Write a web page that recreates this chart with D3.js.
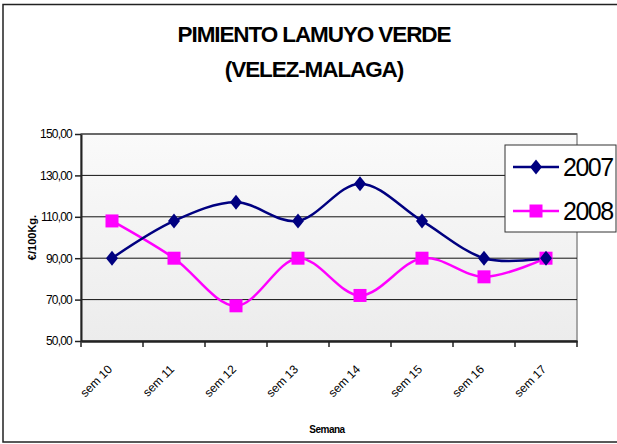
<!DOCTYPE html>
<html><head><meta charset="utf-8">
<script src="https://cdn.jsdelivr.net/npm/d3@7"></script>
<style>body{margin:0;background:#fff}svg{display:block;font-family:Arial,"Liberation Sans",sans-serif}</style>
</head><body>
<svg id="c" width="617" height="444"></svg>
<script>
const categories = ["sem 10","sem 11","sem 12","sem 13","sem 14","sem 15","sem 16","sem 17"];
const series2007 = [90,108,117,108,126,108,90,90];
const series2008 = [108,90,67,90,72,90,81,90];
const seriesNames = ["2007","2008"];
const yTicks = [50,70,90,110,130,150];
const titleLines = ["PIMIENTO LAMUYO VERDE","(VELEZ-MALAGA)"];

const svg = d3.select("#c");
// outer frame
svg.append("rect").attr("x",3).attr("y",4.5).attr("width",640).attr("height",437.5)
  .attr("fill","#fff").attr("stroke","#222").attr("stroke-width",1.5);

const L=81,R=577,T=134,B=341;
const x = d3.scaleBand().domain(categories).range([L,R]);
const y = d3.scaleLinear().domain([50,150]).range([B,T]);

const defs = svg.append("defs");
const g = defs.append("linearGradient").attr("id","bg").attr("x1",0).attr("y1",0).attr("x2",0).attr("y2",1);
g.append("stop").attr("offset","0%").attr("stop-color","#fafafa");
g.append("stop").attr("offset","100%").attr("stop-color","#ececec");
svg.append("rect").attr("x",L).attr("y",T).attr("width",R-L).attr("height",B-T)
  .attr("fill","url(#bg)").attr("stroke","#8c8c8c").attr("stroke-width",1.5);

// gridlines
svg.append("g").selectAll("line").data(yTicks.filter(d=>d>50&&d<150)).join("line")
  .attr("x1",L).attr("x2",R).attr("y1",d=>y(d)).attr("y2",d=>y(d))
  .attr("stroke","#111").attr("stroke-width",1);
svg.append("line").attr("x1",L).attr("x2",R).attr("y1",y(150)).attr("y2",y(150)).attr("stroke","#555").attr("stroke-width",1.5);

// y axis
const yAxis = svg.append("g").attr("transform",`translate(${L},0)`)
  .call(d3.axisLeft(y).tickValues(yTicks).tickSize(6).tickSizeOuter(0).tickFormat(d=>d3.format(".2f")(d).replace(".",",")));
yAxis.select(".domain").attr("stroke","#222").attr("stroke-width",2);
yAxis.selectAll(".tick line").attr("stroke","#222").attr("stroke-width",1.5);
yAxis.selectAll("text").attr("font-size",12).attr("fill","#000").attr("letter-spacing","-0.8px").attr("x",-9);

// x axis
const xAxis = svg.append("g").attr("transform",`translate(0,${B})`)
  .call(d3.axisBottom(x).tickSize(0).tickSizeOuter(0));
xAxis.select(".domain").attr("stroke","#222").attr("stroke-width",2.5);
xAxis.selectAll(".tick text").attr("font-size",12).attr("fill","#000")
  .attr("text-anchor","end").attr("x",0).attr("y",0).attr("dy",0)
  .attr("transform","translate(1,29) rotate(-45)");
// tick marks at band boundaries
svg.append("g").selectAll("line").data(categories).join("line")
  .attr("x1",d=>x(d)+x.bandwidth()).attr("x2",d=>x(d)+x.bandwidth())
  .attr("y1",B).attr("y2",B+6).attr("stroke","#222").attr("stroke-width",1.5);
svg.append("line").attr("x1",L).attr("x2",L).attr("y1",B).attr("y2",B+6).attr("stroke","#222").attr("stroke-width",1.5);

// titles
svg.append("g").selectAll("text").data(titleLines).join("text")
  .attr("x",314).attr("y",(d,i)=>42+i*35).attr("text-anchor","middle")
  .attr("font-size",22.5).attr("font-weight","bold").attr("letter-spacing","-1.1px").text(d=>d);
svg.append("text").attr("transform",`translate(36,${(T+B)/2}) rotate(-90)`).attr("text-anchor","middle")
  .attr("font-size",11).attr("font-weight","bold").text("€/100Kg.");
svg.append("text").attr("x",327).attr("y",433).attr("text-anchor","middle")
  .attr("font-size",10).attr("font-weight","bold").attr("letter-spacing","-0.5px").text("Semana");

// series
const colors = ["#000080","#ff00ff"];
const data = [series2007, series2008];
const line = d3.line().x((d,i)=>x(categories[i])+x.bandwidth()/2).y(d=>y(d)).curve(d3.curveCardinal.tension(0));
const diamond = "M0,-7.5L6,0L0,7.5L-6,0Z";
const square = "M-6.5,-6.5H6.5V6.5H-6.5Z";
const shapes = [diamond, square];
[1,0].forEach(k=>{
  svg.append("path").datum(data[k]).attr("d",line).attr("fill","none").attr("stroke",colors[k]).attr("stroke-width",2.5);
});
[1,0].forEach(k=>{
  svg.append("g").selectAll("path").data(data[k]).join("path")
    .attr("d",shapes[k]).attr("fill",colors[k])
    .attr("transform",(d,i)=>`translate(${x(categories[i])+x.bandwidth()/2},${y(d)})`);
});

// legend
svg.append("rect").attr("x",505).attr("y",145).attr("width",111).attr("height",87)
  .attr("fill","#fff").attr("stroke","#333").attr("stroke-width",1);
seriesNames.forEach((n,k)=>{
  const yy = 167 + k*44;
  svg.append("line").attr("x1",513).attr("x2",559).attr("y1",yy).attr("y2",yy).attr("stroke",colors[k]).attr("stroke-width",2.5);
  svg.append("path").attr("d",shapes[k]).attr("fill",colors[k]).attr("transform",`translate(536,${yy})`);
  svg.append("text").attr("x",563).attr("y",yy+9).attr("font-size",25).attr("letter-spacing","-1.5px").text(n);
});
</script>
</body></html>
